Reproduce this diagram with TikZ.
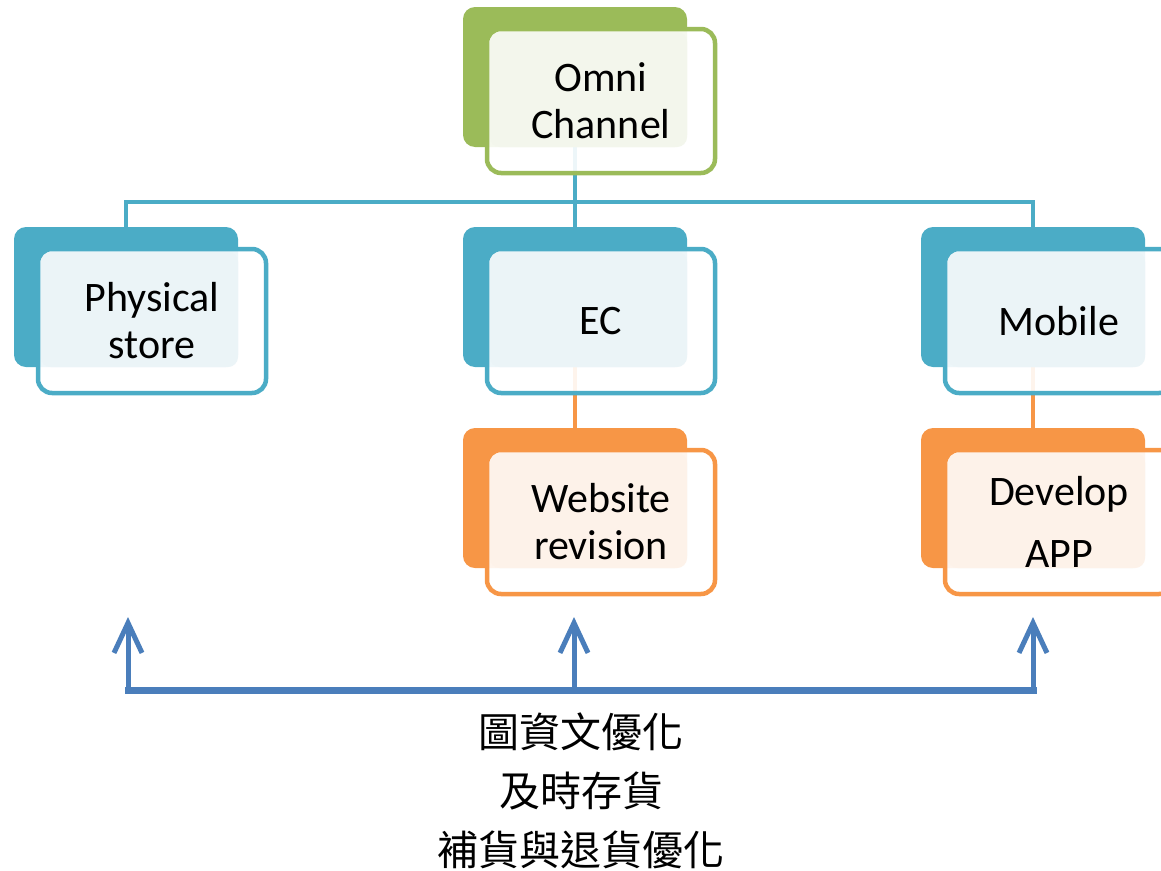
\documentclass[tikz,border=0pt]{standalone}
\usepackage{fontspec}
\setmainfont{Carlito}
\newfontfamily\cjk{Noto Sans CJK TC}
\usetikzlibrary{arrows.meta}
\definecolor{grn}{HTML}{9BBB59}
\definecolor{grnl}{HTML}{F3F6EC}
\definecolor{blu}{HTML}{4BACC6}
\definecolor{blul}{HTML}{EBF4F7}
\definecolor{org}{HTML}{F79646}
\definecolor{orgl}{HTML}{FDF2E9}
\definecolor{arr}{HTML}{4A7EBB}
\pgfdeclarelayer{bg}
\pgfsetlayers{bg,main}
\tikzset{
  backbox/.style={draw=none, fill=#1, rounded corners=12pt, minimum width=224pt, minimum height=140pt, inner sep=0pt, outer sep=0pt, anchor=north west},
  framebox/.style={draw=#1, line width=4.5pt, fill=white, fill opacity=0.9, rounded corners=14pt, minimum width=228pt, minimum height=144pt, inner sep=0pt, outer sep=0pt, anchor=north west},
  lightbox/.style={draw=none, fill=#1, rounded corners=10pt, minimum width=197pt, minimum height=115pt, inner sep=0pt, outer sep=0pt, anchor=north west},
  lbl/.style={align=center, font=\fontsize{42}{47}\selectfont, text=black, inner sep=0pt},
  conn/.style={draw=blu, line width=4pt},
  oconn/.style={draw=org, line width=4pt},
  arrstem/.style={draw=arr, line width=5pt, -{Straight Barb[length=30pt,width=28pt]}},
  arrbus/.style={draw=arr, line width=7pt, line cap=rect},
  cntext/.style={align=center, font=\cjk\fontsize{41}{59}\selectfont, text=black, inner sep=0pt}
}
\newcommand\mkunit[6]{%
  \node[backbox=#4] (#1b) at (#2,#3) {};
  \node[framebox=#4] (#1f) at (#2+24,#3+22) {};
  \node[lightbox=#5] (#1l) at (#2+27,#3+25) {};
  \node[lbl] (#1t) at (#2+138,#3+94) {#6};
}
\begin{document}
\begin{tikzpicture}[x=1pt,y=-1pt]
\useasboundingbox (0,0) rectangle (1161,870);
\clip (0,0) rectangle (1161,870);
\mkunit{omni}{463}{7}{grn}{grnl}{Omni\\Channel}
\mkunit{phys}{14}{227}{blu}{blul}{Physical\\store}
\mkunit{ec}{463}{227}{blu}{blul}{EC}
\mkunit{mob}{921}{227}{blu}{blul}{Mobile}
\mkunit{web}{463}{428}{org}{orgl}{Website\\revision}
\mkunit{dev}{921}{428}{org}{orgl}{Develop\\[15pt]APP}
\coordinate (bus) at (575,202);
\begin{pgfonlayer}{bg}
  \draw[conn] (omnib.south) -- (ecb.north);
  \draw[conn] (physb.north) |- (bus) -| (mobb.north);
  \draw[oconn] (ecb.south) -- (webb.north);
  \draw[oconn] (mobb.south) -- (devb.north);
\end{pgfonlayer}
\coordinate (a1) at (128,690);
\coordinate (a2) at (574,690);
\coordinate (a3) at (1033,690);
\coordinate (t1) at (128,617);
\coordinate (t2) at (574,617);
\coordinate (t3) at (1033,617);
\draw[arrbus] (a1) -- (a3);
\draw[arrstem] (a1) -- (t1);
\draw[arrstem] (a2) -- (t2);
\draw[arrstem] (a3) -- (t3);
\node[cntext] (cn) at (581,791) {圖資文優化\\及時存貨\\補貨與退貨優化};
\end{tikzpicture}
\end{document}
